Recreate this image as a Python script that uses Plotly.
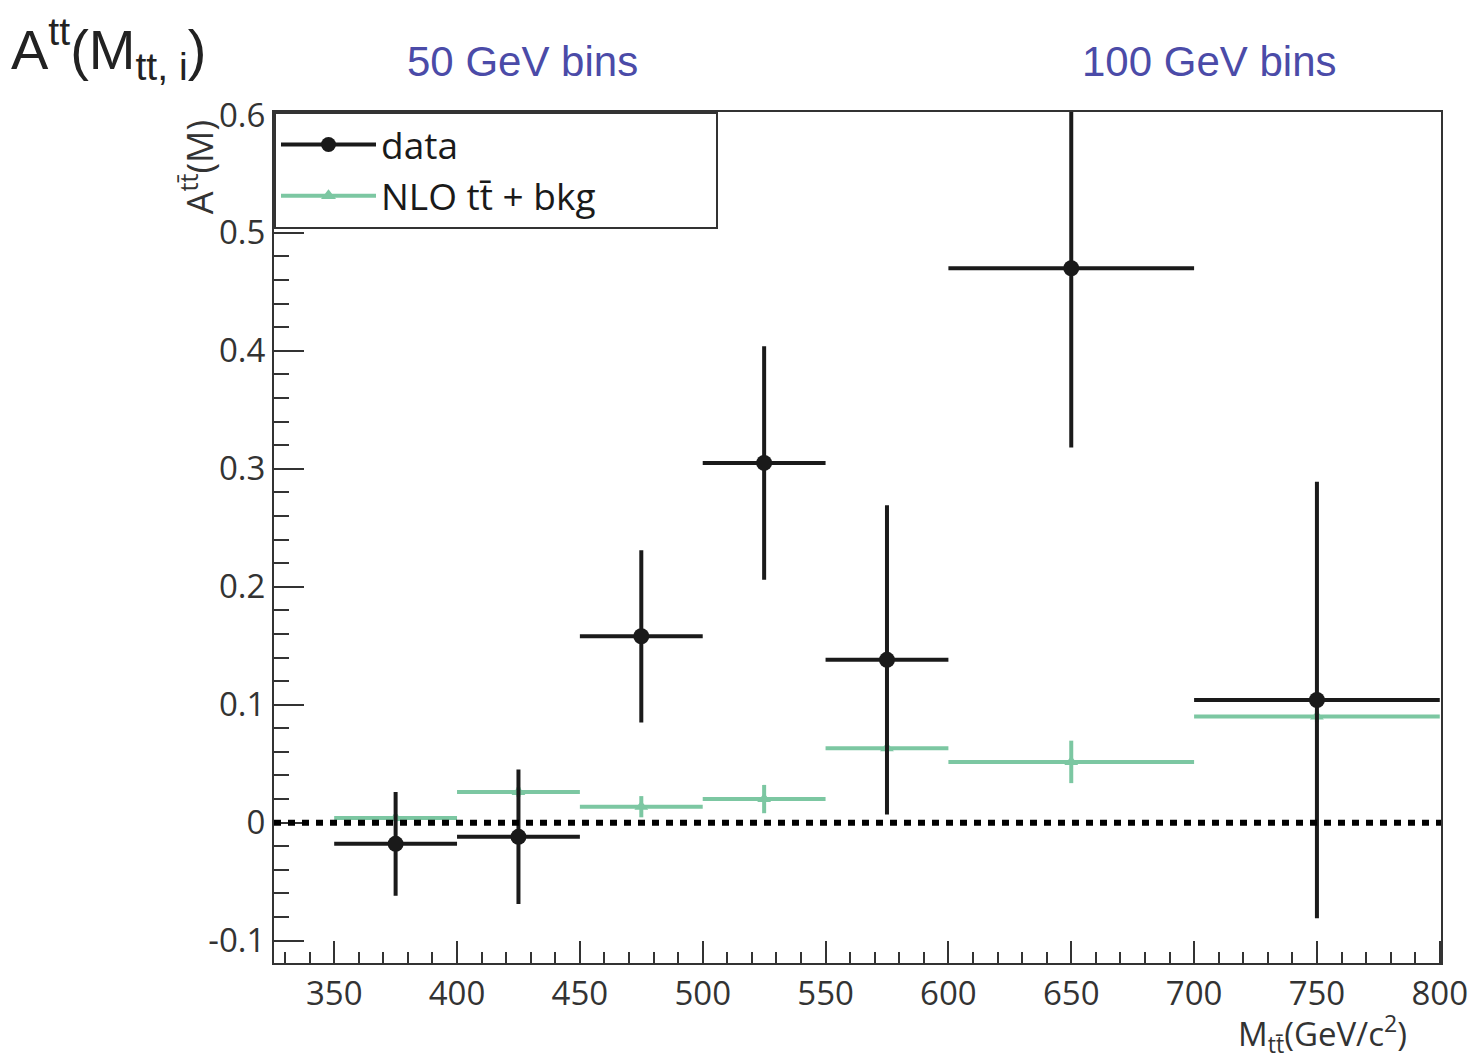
import plotly.graph_objects as go

# Bin edges / centres (GeV/c^2)
bin_lo = [350, 400, 450, 500, 550, 600, 700]
bin_hi = [400, 450, 500, 550, 600, 700, 800]
bin_center = [(a + b) / 2 for a, b in zip(bin_lo, bin_hi)]
bin_half = [(b - a) / 2 for a, b in zip(bin_lo, bin_hi)]

# Data asymmetry and errors
data_y = [-0.018, -0.012, 0.158, 0.305, 0.138, 0.470, 0.104]
data_err = [0.044, 0.057, 0.073, 0.099, 0.131, 0.152, 0.185]

# NLO ttbar + bkg prediction and errors
nlo_y = [0.004, 0.026, 0.0135, 0.020, 0.063, 0.0515, 0.090]
nlo_err = [0.003, 0.004, 0.009, 0.012, 0.004, 0.018, 0.005]

# Axis ticks
y_tickvals = [-0.1, 0, 0.1, 0.2, 0.3, 0.4, 0.5, 0.6]
y_ticktext = ["-0.1", "0", "0.1", "0.2", "0.3", "0.4", "0.5", "0.6"]
x_tickvals = [350, 400, 450, 500, 550, 600, 650, 700, 750, 800]

BLACK = "#1a1a1a"
GREEN = "#7cc7a2"
BLUE = "#4b4ba8"
TICKFONT = "Open Sans"
TITLEFONT = "Liberation Sans"

fig = go.Figure()

# NLO prediction
fig.add_trace(go.Scatter(
    x=bin_center, y=nlo_y, mode="markers", showlegend=False,
    marker=dict(symbol="triangle-up", size=12, color=GREEN),
    error_x=dict(type="data", array=bin_half, width=0, thickness=4, color=GREEN),
    error_y=dict(type="data", array=nlo_err, width=0, thickness=4, color=GREEN),
))

# Data
fig.add_trace(go.Scatter(
    x=bin_center, y=data_y, mode="markers", showlegend=False,
    marker=dict(symbol="circle", size=16, color=BLACK),
    error_x=dict(type="data", array=bin_half, width=0, thickness=4, color=BLACK),
    error_y=dict(type="data", array=data_err, width=0, thickness=4, color=BLACK),
))

# Legend-only entries
fig.add_trace(go.Scatter(
    x=[None], y=[None], mode="lines+markers", name="data",
    line=dict(color=BLACK, width=4),
    marker=dict(symbol="circle", size=15, color=BLACK),
))
fig.add_trace(go.Scatter(
    x=[None], y=[None], mode="lines+markers",
    name="NLO tt\u0304 + bkg" + "\u00a0" * 12,
    line=dict(color=GREEN, width=4),
    marker=dict(symbol="triangle-up", size=13, color=GREEN),
))

# Zero reference line
fig.add_shape(type="line", xref="paper", yref="y", x0=0, x1=1, y0=0, y1=0,
              line=dict(color="black", width=6, dash="7px,7px"))

fig.update_layout(
    width=1471, height=1062,
    margin=dict(l=274, r=30, t=112, b=99),
    paper_bgcolor="white", plot_bgcolor="white",
    showlegend=True,
    legend=dict(
        x=0, y=1, xanchor="left", yanchor="top",
        bgcolor="white", bordercolor="#333333", borderwidth=2,
        font=dict(family=TICKFONT, size=37, color=BLACK),
        itemwidth=95, tracegroupgap=0,
    ),
    xaxis=dict(
        range=[325.5, 800.5], showgrid=False, zeroline=False,
        showline=True, linecolor="#333333", linewidth=2, mirror=True,
        ticks="inside", ticklen=22, tickwidth=2, tickcolor="#333333",
        tickvals=x_tickvals, automargin=False, ticklabeloverflow="allow",
        tickfont=dict(family=TICKFONT, size=33, color="#333333"),
        minor=dict(dtick=10, ticks="inside", ticklen=11, tickwidth=2, tickcolor="#333333"),
    ),
    yaxis=dict(
        range=[-0.119, 0.6025], showgrid=False, zeroline=False,
        showline=True, linecolor="#333333", linewidth=2, mirror=True,
        ticks="inside", ticklen=30, tickwidth=2, tickcolor="#333333",
        tickvals=y_tickvals, ticktext=y_ticktext, automargin=False,
        tickfont=dict(family=TICKFONT, size=33, color="#333333"),
        minor=dict(dtick=0.02, tick0=0, ticks="inside", ticklen=15, tickwidth=2, tickcolor="#333333"),
    ),
    annotations=[
        dict(text="A<sup>tt</sup>(M<sub>tt, i</sub>)", xref="paper", yref="paper",
             x=-0.227, y=1.074, xanchor="left", yanchor="middle", showarrow=False,
             font=dict(family=TITLEFONT, size=56, color="#222222")),
        dict(text="50 GeV bins", xref="paper", yref="paper",
             x=0.213, y=1.059, xanchor="center", yanchor="middle", showarrow=False,
             font=dict(family=TITLEFONT, size=42, color=BLUE)),
        dict(text="100 GeV bins", xref="paper", yref="paper",
             x=0.802, y=1.059, xanchor="center", yanchor="middle", showarrow=False,
             font=dict(family=TITLEFONT, size=42, color=BLUE)),
        dict(text="A<sup>tt\u0304</sup>(M)", xref="paper", yref="paper",
             x=-0.066, y=0.935, xanchor="center", yanchor="middle", showarrow=False,
             textangle=-90,
             font=dict(family=TICKFONT, size=36, color="#333333")),
        dict(text="M<sub>tt\u0304</sub>(GeV/c<sup>2</sup>)", xref="paper", yref="paper",
             x=0.973, y=-0.083, xanchor="right", yanchor="middle", showarrow=False,
             font=dict(family=TICKFONT, size=33, color="#333333")),
    ],
)

fig.write_html("out.html")
